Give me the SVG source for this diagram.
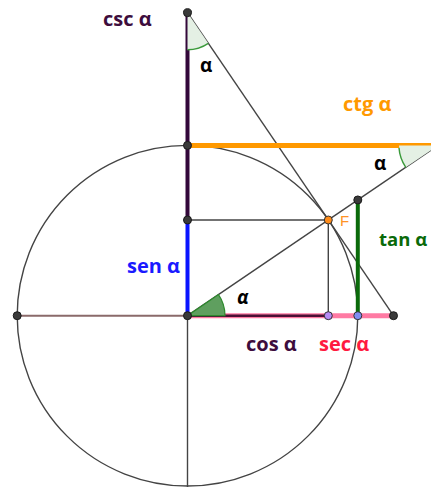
<svg xmlns="http://www.w3.org/2000/svg" width="431" height="487" viewBox="0 0 431 487">
<style>
.thin{stroke:#444;stroke-width:1.4;fill:none}
.pt{fill:#3a3a3a;stroke:#1a1a1a;stroke-width:1}
.lbl{font-family:"Open Sans","Liberation Sans",sans-serif;font-weight:700;font-size:20px}
.ang{font-family:"Open Sans","Liberation Sans",sans-serif;font-weight:700;font-size:19px;fill:#000}
</style>
<rect width="431" height="487" fill="#fff"/>
<g id="circle"><circle cx="187.5" cy="315.7" r="170.3" class="thin"/></g>
<g id="connectors">
  <line x1="17.2" y1="315.7" x2="187.5" y2="315.7" stroke="#8a6a6a" stroke-width="2"/>
  <line x1="187.5" y1="315.7" x2="187.5" y2="487" class="thin"/>
  <line x1="187.5" y1="315.7" x2="438" y2="145.4" class="thin"/>
  <line x1="187.5" y1="12.7" x2="393.5" y2="315.7" class="thin"/>
  <line x1="187.5" y1="220" x2="328.3" y2="220" class="thin"/>
  <line x1="328.3" y1="220" x2="328.3" y2="315.7" class="thin"/>
  <line x1="187.5" y1="12.7" x2="187.5" y2="220" stroke="#33083a" stroke-width="4"/>
  <line x1="187.5" y1="220" x2="187.5" y2="315.7" stroke="#0a14ff" stroke-width="4"/>
  <line x1="187.5" y1="145.4" x2="431" y2="145.4" stroke="#ff9900" stroke-width="5"/>
  <line x1="357.8" y1="199.95" x2="357.8" y2="315.7" stroke="#0a6a0a" stroke-width="4"/>
  <line x1="187.5" y1="315.7" x2="393.5" y2="315.7" stroke="#ff7aa3" stroke-width="5"/>
  <line x1="187.5" y1="315.7" x2="328.3" y2="315.7" stroke="#4a1035" stroke-width="2.5"/>
</g>
<g id="angles">
  <path d="M187.5,315.7 L225,315.7 A37.5,37.5 0 0 0 218.5,294.6 Z" fill="#5f9f5f" stroke="#2e8b2e" stroke-width="1.2"/>
  <path d="M187.5,12.7 L187.5,49.7 A37,37 0 0 0 208.3,43.3 Z" fill="#e4f0e4" stroke="none"/>
  <path d="M187.5,49.7 A37,37 0 0 0 208.3,43.3" fill="none" stroke="#3a9a3a" stroke-width="1.4"/>
  <path d="M438,145.4 L399,145.4 A39,39 0 0 0 405.8,167.3 Z" fill="#e4f0e4" stroke="none"/>
  <path d="M399,147.9 A39,39 0 0 0 405.8,167.3" fill="none" stroke="#3a9a3a" stroke-width="1.4"/>
</g>
<g id="points">
  <circle cx="187.5" cy="12.7" r="4" class="pt"/>
  <circle cx="187.5" cy="145.4" r="4" class="pt"/>
  <circle cx="187.5" cy="220" r="4" class="pt"/>
  <circle cx="187.5" cy="315.7" r="4" class="pt"/>
  <circle cx="17.2" cy="315.7" r="4" class="pt"/>
  <circle cx="357.8" cy="199.95" r="4" class="pt"/>
  <circle cx="393.5" cy="315.7" r="4" class="pt"/>
  <circle cx="328.3" cy="220" r="4" fill="#ff8c1a" stroke="#333" stroke-width="1"/>
  <circle cx="328.3" cy="315.7" r="4" fill="#b58af5" stroke="#333" stroke-width="1"/>
  <circle cx="357.8" cy="315.7" r="4" fill="#7f8df2" stroke="#333" stroke-width="1"/>
</g>
<g id="labels">
  <text x="103" y="26" class="lbl" fill="#3d0d3d">csc α</text>
  <text x="343" y="111" class="lbl" fill="#ff9900">ctg α</text>
  <text x="379" y="246" class="lbl" fill="#0a6a0a" style="font-size:18.5px">tan α</text>
  <text x="127" y="273" class="lbl" fill="#1a1aff">sen α</text>
  <text x="246" y="351" class="lbl" fill="#3d0d3d">cos α</text>
  <text x="319" y="351" class="lbl" fill="#ff1a40">sec α</text>
  <text x="200" y="72" class="ang">α</text>
  <text x="374" y="170" class="ang">α</text>
  <text x="237" y="304" class="ang" font-style="italic">α</text>
  <text x="340" y="225.5" font-family="'Liberation Sans', sans-serif" font-size="15" fill="#ff9326">F</text>
</g>
</svg>
